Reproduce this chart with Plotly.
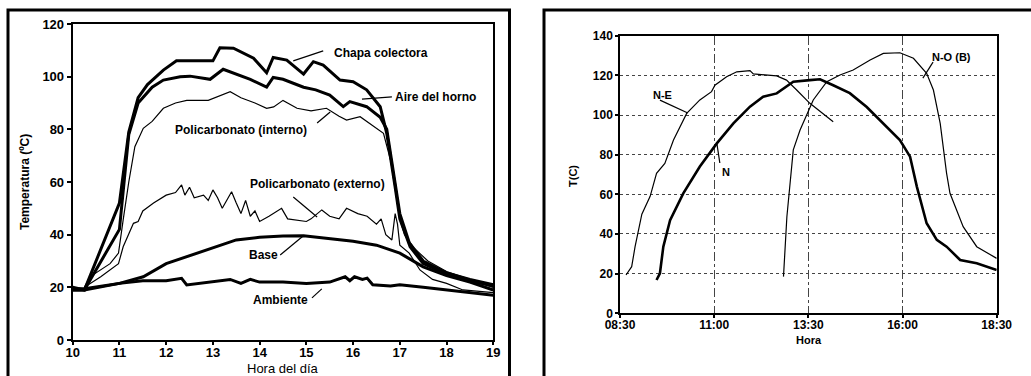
import plotly.graph_objects as go

# ---------------- Left panel data (hour of day, °C) ----------------
chapa_x = [10.0, 10.25, 11.0, 11.1, 11.2, 11.4, 11.6, 11.94, 12.22, 12.6, 13.0, 13.15, 13.44, 13.87, 14.15, 14.29, 14.58, 14.94, 15.15, 15.36, 15.72, 16.0, 16.29, 16.58, 16.72, 16.9, 17.0, 17.22, 17.5, 18.0, 18.5, 19.0]
chapa_y = [20, 19, 52, 66, 79, 92, 97, 102.5, 106, 106, 106, 111, 110.8, 107, 101.5, 107.3, 106.3, 101, 105.7, 104.4, 98.7, 98.1, 95, 88.6, 78.5, 58, 46, 35.4, 29, 25, 22.5, 20.5]

aire_x = [10.0, 10.25, 11.0, 11.1, 11.2, 11.4, 11.7, 11.94, 12.3, 12.51, 12.94, 13.22, 13.5, 13.8, 14.15, 14.29, 14.5, 14.94, 15.2, 15.5, 15.79, 15.93, 16.29, 16.58, 16.72, 16.9, 17.0, 17.2, 17.5, 18.0, 18.5, 19.0]
aire_y = [19, 19, 42, 60, 78, 90, 96, 98.7, 100, 100.2, 99, 102.8, 101, 99, 96, 99.7, 99, 96, 95, 93, 88.6, 90.5, 88.6, 84.6, 80, 60, 48, 37, 30, 25.5, 23, 21]

pint_x = [10.25, 10.37, 10.8, 10.98, 11.08, 11.2, 11.33, 11.51, 11.7, 11.94, 12.2, 12.44, 12.9, 13.1, 13.37, 13.6, 13.9, 14.15, 14.3, 14.5, 14.8, 15.1, 15.43, 15.7, 15.86, 16.15, 16.5, 16.65, 16.85, 17.0, 17.1, 17.3, 17.6, 18.0, 18.5, 19.0]
pint_y = [20, 24, 29, 33, 45.6, 60, 73.4, 80.4, 83, 88, 90, 91, 91, 92.5, 94.3, 92, 90, 88, 88.5, 91, 88, 87, 88, 85, 83.5, 84.8, 80.4, 78.5, 65, 46, 40, 35, 30, 26, 23, 20]

pext_x = [10.25, 10.6, 10.98, 11.08, 11.3, 11.4, 11.5, 11.73, 12.0, 12.2, 12.33, 12.4, 12.5, 12.6, 12.8, 12.9, 13.0, 13.1, 13.2, 13.4, 13.5, 13.6, 13.7, 13.8, 13.9, 14.0, 14.2, 14.47, 14.6, 15.0, 15.1, 15.33, 15.5, 15.7, 15.86, 16.1, 16.3, 16.5, 16.6, 16.7, 16.83, 16.9, 16.95, 17.0, 17.2, 17.43, 17.7, 18.0, 18.35, 19.0]
pext_y = [20, 24, 29, 35.4, 44.3, 45, 49, 52, 55, 56, 58.9, 55, 58, 54, 55, 53, 57, 54, 50, 56.3, 52, 48, 53, 47, 49, 45, 47, 50, 46, 45, 46, 49.4, 47, 46, 50, 48, 47, 44, 46, 40, 38, 48, 44, 36, 33, 26.6, 23, 21.5, 19, 18]

base_x = [10.0, 10.25, 11.0, 11.51, 12.0, 12.5, 13.0, 13.5, 14.0, 14.5, 14.94, 15.5, 16.0, 16.5, 17.0, 17.5, 18.0, 18.5, 19.0]
base_y = [19.5, 19.5, 21.5, 24, 29, 32, 34.8, 38, 39, 39.5, 39.6, 38.5, 37.5, 36, 33, 27.8, 24.5, 22, 19]

amb_x = [10.0, 10.25, 11.0, 11.5, 12.0, 12.33, 12.44, 12.7, 13.0, 13.37, 13.6, 13.8, 14.0, 14.5, 15.0, 15.5, 15.83, 15.93, 16.03, 16.2, 16.3, 16.42, 16.8, 17.0, 17.5, 18.0, 18.5, 19.0]
amb_y = [19, 19, 21.5, 22.5, 22.5, 23.4, 20.9, 21.5, 22, 23, 21.5, 23, 22, 22, 21.5, 22, 24, 22.5, 24, 23, 23.5, 21, 20.5, 21, 20, 19, 17.8, 17]

left_xticks = [10, 11, 12, 13, 14, 15, 16, 17, 18, 19]
left_yticks = [0, 20, 40, 60, 80, 100, 120]

# ---------------- Right panel data (hour, °C) ----------------
ne_x = [8.66, 8.81, 8.9, 9.08, 9.3, 9.47, 9.69, 9.92, 10.27, 10.62, 10.93, 11.02, 11.33, 11.6, 11.95, 12.04, 12.66, 12.92, 13.19, 13.54, 14.16]
ne_y = [19.3, 23.5, 33.6, 50, 59, 70.6, 75.6, 87.4, 100.8, 107.6, 111.8, 115, 119.3, 121.8, 122.4, 120.7, 119.7, 117.6, 112.6, 105.9, 96.6]

n_x = [9.47, 9.56, 9.65, 9.83, 10.18, 10.62, 11.07, 11.51, 11.95, 12.3, 12.66, 13.1, 13.54, 13.81, 14.16, 14.6, 15.05, 15.49, 15.93, 16.2, 16.38, 16.64, 16.91, 17.17, 17.53, 17.97, 18.5]
n_y = [16.8, 20.2, 33.6, 47, 60.5, 74, 85.7, 95.8, 104.2, 109.2, 110.9, 116.8, 117.6, 118, 115, 111, 104, 95.8, 87.4, 79, 63.9, 45.4, 37, 33.6, 26.9, 25.2, 21.8]

no_x = [12.84, 12.93, 13.1, 13.28, 13.63, 13.99, 14.34, 14.69, 15.14, 15.49, 15.93, 16.29, 16.64, 16.82, 17.0, 17.17, 17.26, 17.61, 17.97, 18.5]
no_y = [18.5, 48.7, 82.4, 92.4, 107.6, 116.8, 120.2, 122.7, 127.7, 131.1, 131.4, 128.6, 121, 112.6, 95.8, 70.6, 60.5, 43.7, 33.6, 27.7]

right_xticks = [8.5, 11.0, 13.5, 16.0, 18.5]
right_xlabels = ["08:30", "11:00", "13:30", "16:00", "18:30"]
right_yticks = [0, 20, 40, 60, 80, 100, 120, 140]

# ---------------- Figure ----------------
W, H = 1031, 376
FONT = "Liberation Sans"
fig = go.Figure()

def px_x(p):
    return p / W

def px_y(p):
    return 1 - p / H

thick = dict(color="black", width=3)
thin = dict(color="black", width=1.2)

for xs, ys, ln in [(amb_x, amb_y, thick), (base_x, base_y, thick), (pext_x, pext_y, thin),
                   (pint_x, pint_y, thin), (aire_x, aire_y, thick), (chapa_x, chapa_y, thick)]:
    fig.add_trace(go.Scatter(x=xs, y=ys, mode="lines", line=ln, xaxis="x", yaxis="y",
                             showlegend=False, hoverinfo="skip"))

for xs, ys, ln in [(ne_x, ne_y, thin), (n_x, n_y, dict(color="black", width=2.6)), (no_x, no_y, thin)]:
    fig.add_trace(go.Scatter(x=xs, y=ys, mode="lines", line=ln, xaxis="x2", yaxis="y2",
                             showlegend=False, hoverinfo="skip"))

axis_common = dict(showline=True, linecolor="black", mirror=True, ticks="outside",
                   tickcolor="black", zeroline=False, automargin=False, fixedrange=True)

def tf(size):
    return dict(family=FONT, size=size, color="black", weight="bold")

fig.update_layout(
    width=W, height=H,
    margin=dict(l=0, r=0, t=0, b=0),
    paper_bgcolor="white", plot_bgcolor="white",
    font=dict(family=FONT, color="black"),
    xaxis=dict(domain=[px_x(72.7), px_x(493.3)], range=[10, 19], tickvals=left_xticks,
               ticklen=3, linewidth=2, tickwidth=2, showgrid=False, anchor="y",
               ticklabelstandoff=-4, tickfont=tf(13), **axis_common),
    yaxis=dict(domain=[px_y(340), px_y(24)], range=[0, 120], tickvals=left_yticks,
               ticklen=4, linewidth=2, tickwidth=2, showgrid=False, anchor="x",
               tickfont=tf(13), **axis_common),
    xaxis2=dict(domain=[px_x(620), px_x(996.7)], range=[8.5, 18.5], tickvals=right_xticks,
                ticktext=right_xlabels, ticklen=3, linewidth=1.5, tickwidth=1.5, anchor="y2",
                ticklabelstandoff=-3,
                showgrid=True, gridcolor="#444", griddash="dashdot", gridwidth=1,
                tickfont=tf(12), **axis_common),
    yaxis2=dict(domain=[px_y(313.3), px_y(35.7)], range=[0, 140], tickvals=right_yticks,
                ticklen=3, linewidth=1.5, tickwidth=1.5, anchor="x2",
                showgrid=True, gridcolor="#444", griddash="dot", gridwidth=1,
                tickfont=tf(12), **axis_common),
)

# outer frames (paper coords)
fig.add_shape(type="rect", xref="paper", yref="paper", x0=px_x(8), x1=px_x(509.5),
              y0=-0.1, y1=px_y(10), line=dict(color="black", width=3), layer="below")
fig.add_shape(type="rect", xref="paper", yref="paper", x0=px_x(544), x1=1.1,
              y0=-0.1, y1=px_y(10), line=dict(color="black", width=3), layer="below")

# axis titles
titles = [
    ("<b>Temperatura (ºC)</b>", 25, 182, -90, 12),
    ("Hora del día", 283, 368, 0, 13),
    ("<b>T(C)</b>", 573, 176, -90, 11),
    ("<b>Hora</b>", 809, 340, 0, 11),
]
for txt, xp, yp, ang, sz in titles:
    fig.add_annotation(xref="paper", yref="paper", x=px_x(xp), y=px_y(yp), text=txt,
                       textangle=ang, showarrow=False, xanchor="center", yanchor="middle",
                       font=dict(family=FONT, size=sz, color="black"))

# series labels with leader lines (data coords)
left_labels = [
    ("Chapa colectora", 15.55, 109, "left", (15.36, 109.8, 14.72, 106)),
    ("Aire del horno", 16.85, 92.3, "left", (16.83, 92.3, 16.19, 91.5)),
    ("Policarbonato (interno)", 13.6, 79.8, "center", (15.23, 82.4, 15.51, 86.6)),
    ("Policarbonato (externo)", 15.23, 59.2, "center", (14.72, 54.3, 15.23, 46.7)),
    ("Base", 14.09, 32.3, "center", (14.44, 32.3, 14.93, 39.5)),
    ("Ambiente", 14.44, 15.2, "center", (15.12, 16.0, 15.33, 19.4)),
]
for txt, x, y, anchor, (x0, y0, x1, y1) in left_labels:
    fig.add_annotation(xref="x", yref="y", x=x, y=y, text=f"<b>{txt}</b>", xanchor=anchor,
                       yanchor="middle", showarrow=False,
                       font=dict(family=FONT, size=12, color="black"))
    fig.add_shape(type="line", xref="x", yref="y", x0=x0, y0=y0, x1=x1, y1=y1,
                  line=dict(color="black", width=1.2))

right_labels = [
    ("N-E", 9.64, 110, (9.56, 107.5, 10.3, 101)),
    ("N", 11.31, 71.3, (11.15, 75.8, 11.07, 85.9)),
    ("N-O (B)", 17.31, 129.3, (16.81, 126.7, 16.54, 118.6)),
]
for txt, x, y, (x0, y0, x1, y1) in right_labels:
    fig.add_annotation(xref="x2", yref="y2", x=x, y=y, text=f"<b>{txt}</b>",
                       xanchor="center", yanchor="middle", showarrow=False,
                       font=dict(family=FONT, size=11, color="black"))
    fig.add_shape(type="line", xref="x2", yref="y2", x0=x0, y0=y0, x1=x1, y1=y1,
                  line=dict(color="black", width=1.2))

fig.write_html("out.html", config={"displayModeBar": False},
               post_script="document.body.style.margin='0px';document.body.style.overflow='hidden';")
